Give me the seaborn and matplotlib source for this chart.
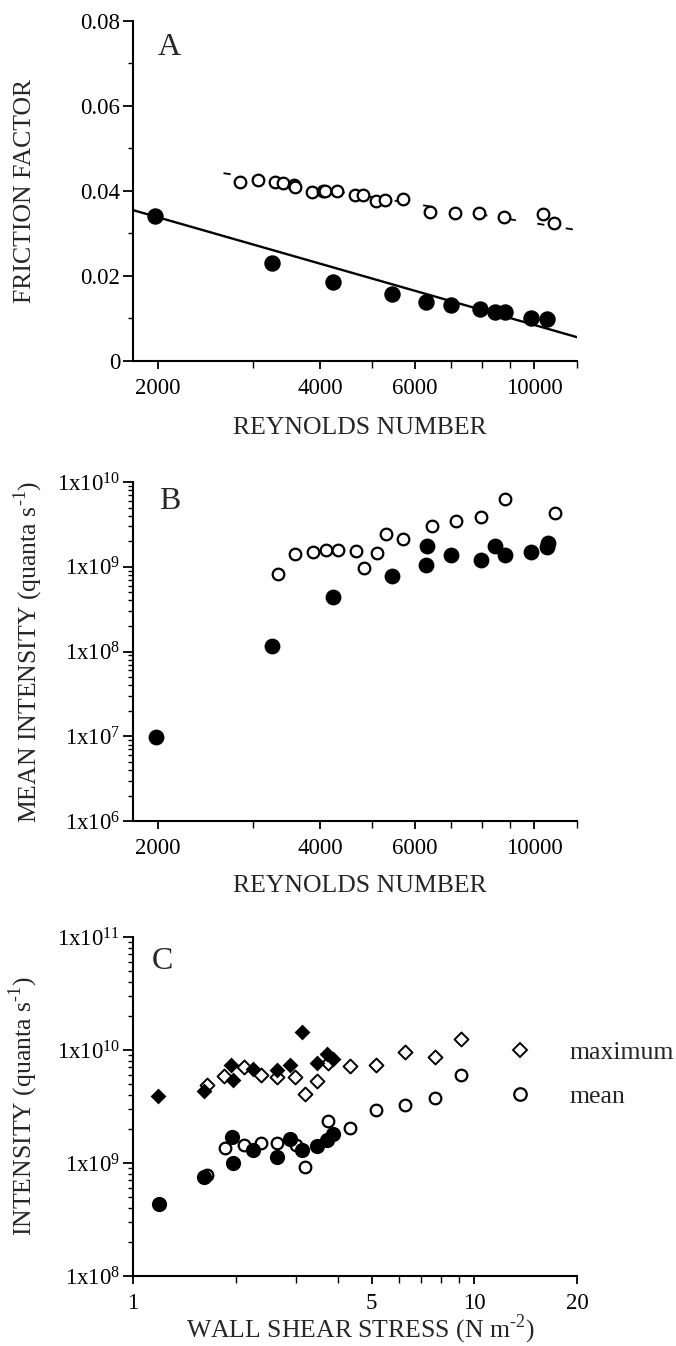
"""
Three-panel figure: friction factor (A), mean intensity (B) vs Reynolds number,
and intensity vs wall shear stress (C).
"""

import matplotlib
matplotlib.use("Agg")  # no display

import matplotlib.pyplot as plt
import matplotlib.ticker as mticker
import numpy as np
import seaborn as sns
from matplotlib.lines import Line2D

# ── Panel A: friction factor ────────────────────────────────
re_a_filled = [1980, 3260, 4230, 5440, 6300, 6990, 7920, 8440, 8810, 9860, 10540]
f_a_filled = [0.0340, 0.0231, 0.0185, 0.0157, 0.0138, 0.0132, 0.0122, 0.0116,
              0.0115, 0.0102, 0.0098]
re_a_open = [2845, 3070, 3300, 3415, 3575, 3590, 3860, 4055, 4090, 4310, 4645,
             4800, 5085, 5280, 5700, 6415, 7115, 7900, 8795, 10370, 10880]
f_a_open = [0.0422, 0.0426, 0.0422, 0.0418, 0.0414, 0.0410, 0.0398, 0.0401,
            0.0399, 0.0401, 0.0391, 0.0391, 0.0377, 0.0379, 0.0380, 0.0351,
            0.0349, 0.0349, 0.0338, 0.0345, 0.0324]
fit_re = [1800, 12000]
fit_f = [0.0355, 0.0056]
dash_re = [2650, 12000]
dash_f = [0.0442, 0.0308]

# ── Panel B: mean intensity ─────────────────────────────────
re_b_filled = [1985, 3260, 4235, 5445, 6295, 6320, 6990, 7945, 8445, 8835,
               9855, 10560, 10580]
i_b_filled = [9.8e6, 1.15e8, 4.4e8, 7.8e8, 1.04e9, 1.74e9, 1.39e9, 1.21e9,
              1.74e9, 1.39e9, 1.48e9, 1.69e9, 1.9e9]
re_b_open = [3340, 3590, 3880, 4100, 4330, 4660, 4830, 5100, 5305, 5715,
             6460, 7160, 7945, 8810, 10930]
i_b_open = [8.2e8, 1.42e9, 1.49e9, 1.56e9, 1.58e9, 1.55e9, 9.8e8, 1.47e9,
            2.45e9, 2.12e9, 3.05e9, 3.49e9, 3.86e9, 6.3e9, 4.3e9]

# ── Panel C: intensity vs wall shear stress ─────────────────
tau_max_filled = [1.18, 1.61, 1.94, 1.96, 2.25, 2.65, 2.89, 3.12, 3.45, 3.69, 3.86]
i_max_filled = [3.94e9, 4.3e9, 7.4e9, 5.46e9, 6.8e9, 6.66e9, 7.4e9, 1.45e10,
                7.68e9, 9.2e9, 8.3e9]
tau_max_open = [1.65, 1.85, 2.12, 2.37, 2.65, 2.99, 3.19, 3.45, 3.72, 4.32,
                5.14, 6.26, 7.67, 9.12]
i_max_open = [4.93e9, 5.93e9, 7.0e9, 6.03e9, 5.8e9, 5.73e9, 4.08e9, 5.27e9,
              7.68e9, 7.16e9, 7.41e9, 9.66e9, 8.6e9, 1.25e10]
tau_mean_filled = [1.19, 1.61, 1.95, 1.96, 2.25, 2.65, 2.89, 3.12, 3.45, 3.69, 3.86]
i_mean_filled = [4.3e8, 7.5e8, 1.69e9, 9.9e8, 1.31e9, 1.14e9, 1.63e9, 1.3e9,
                 1.42e9, 1.6e9, 1.81e9]
tau_mean_open = [1.65, 1.86, 2.12, 2.37, 2.65, 3.01, 3.2, 3.73, 4.33, 5.14,
                 6.26, 7.67, 9.12]
i_mean_open = [7.9e8, 1.37e9, 1.44e9, 1.5e9, 1.5e9, 1.45e9, 9.3e8, 2.33e9,
               2.04e9, 2.94e9, 3.28e9, 3.73e9, 6.04e9]

re_ticks = [2000, 4000, 6000, 10000]
re_minor = [3000, 5000, 7000, 8000, 9000, 12000]
tau_ticks = [1, 5, 10, 20]
tau_minor = [2, 3, 4, 6, 7, 8, 9]

sns.set_theme(style="ticks")
plt.rcParams["font.family"] = ["Liberation Serif", "DejaVu Serif"]
plt.rcParams["mathtext.fontset"] = "custom"
plt.rcParams["mathtext.rm"] = "Liberation Serif"
plt.rcParams["axes.linewidth"] = 1.5
plt.rcParams["axes.edgecolor"] = "black"
plt.rcParams["xtick.color"] = "black"
plt.rcParams["ytick.color"] = "black"

FS_TICK = 16.5
FS_LABEL = 18.5


def dots(ax, x, y, marker, size, filled, lw=1.6):
    sns.scatterplot(
        x=x, y=y, ax=ax, marker=marker, s=size,
        facecolor="black" if filled else "white",
        edgecolor="black", linewidth=0 if filled else lw,
        zorder=3, legend=False,
    )


def pow_label(v, _pos):
    return r"$\mathregular{1x10^{%d}}$" % int(round(np.log10(v)))


def style_axis(ax):
    sns.despine(ax=ax)
    ax.tick_params(axis="y", which="major", length=7, width=1.3, pad=2,
                   labelsize=FS_TICK, direction="out")
    ax.tick_params(axis="y", which="minor", length=3.5, width=1.0, direction="out")
    ax.tick_params(axis="x", which="major", length=6, width=1.3, pad=6,
                   labelsize=FS_TICK, direction="out")
    ax.tick_params(axis="x", which="minor", length=5, width=1.0, direction="out")


def re_axis(ax):
    ax.set_xscale("log")
    ax.set_xlim(1800, 12000)
    ax.xaxis.set_major_locator(mticker.FixedLocator(re_ticks))
    ax.xaxis.set_major_formatter(mticker.FixedFormatter([str(t) for t in re_ticks]))
    ax.xaxis.set_minor_locator(mticker.FixedLocator(re_minor))
    ax.xaxis.set_minor_formatter(mticker.NullFormatter())


def log_y(ax, lo, hi):
    ax.set_yscale("log")
    ax.set_ylim(lo, hi)
    ax.yaxis.set_major_locator(mticker.LogLocator(base=10, numticks=20))
    ax.yaxis.set_major_formatter(mticker.FuncFormatter(pow_label))
    ax.yaxis.set_minor_locator(mticker.LogLocator(base=10, subs=np.arange(2, 10), numticks=50))
    ax.yaxis.set_minor_formatter(mticker.NullFormatter())


fig = plt.figure(figsize=(6.76, 13.46), dpi=100)
ax_a = fig.add_axes([0.1967, 0.7318, 0.657, 0.2526])
ax_b = fig.add_axes([0.1967, 0.3900, 0.657, 0.2519])
ax_c = fig.add_axes([0.1967, 0.0520, 0.657, 0.2519])

# ── A ──
re_axis(ax_a)
ax_a.set_ylim(0, 0.08)
ax_a.yaxis.set_major_locator(mticker.FixedLocator([0, 0.02, 0.04, 0.06, 0.08]))
ax_a.yaxis.set_major_formatter(mticker.FixedFormatter(["0", "0.02", "0.04", "0.06", "0.08"]))
ax_a.yaxis.set_minor_locator(mticker.FixedLocator([0.01, 0.03, 0.05, 0.07]))
sns.lineplot(x=fit_re, y=fit_f, ax=ax_a, color="black", linewidth=1.7, zorder=2)
sns.lineplot(x=dash_re, y=dash_f, ax=ax_a, color="black", linewidth=1.3,
             linestyle=(0, (4, 12)), zorder=2)
dots(ax_a, re_a_open, f_a_open, "o", 70, False)
dots(ax_a, re_a_filled, f_a_filled, "o", 140, True)
style_axis(ax_a)
ax_a.set_xlabel("REYNOLDS NUMBER", fontsize=FS_LABEL)
ax_a.set_ylabel("FRICTION FACTOR", fontsize=FS_LABEL)
ax_a.text(0.055, 0.965, "A", transform=ax_a.transAxes, fontsize=23,
          ha="left", va="top")

# ── B ──
re_axis(ax_b)
log_y(ax_b, 1e6, 1e10)
dots(ax_b, re_b_open, i_b_open, "o", 70, False)
dots(ax_b, re_b_filled, i_b_filled, "o", 130, True)
style_axis(ax_b)
ax_b.set_xlabel("REYNOLDS NUMBER", fontsize=FS_LABEL)
ax_b.set_ylabel("MEAN INTENSITY (quanta s$^{\\mathregular{\u2010}1}$)", fontsize=FS_LABEL)
ax_b.text(0.058, 0.985, "B", transform=ax_b.transAxes, fontsize=23,
          ha="left", va="top")

# ── C ──
ax_c.set_xscale("log")
ax_c.set_xlim(1, 20)
ax_c.xaxis.set_major_locator(mticker.FixedLocator(tau_ticks))
ax_c.xaxis.set_major_formatter(mticker.FixedFormatter([str(t) for t in tau_ticks]))
ax_c.xaxis.set_minor_locator(mticker.FixedLocator(tau_minor))
ax_c.xaxis.set_minor_formatter(mticker.NullFormatter())
log_y(ax_c, 1e8, 1e11)
dots(ax_c, tau_max_open, i_max_open, "D", 50, False, lw=1.4)
dots(ax_c, tau_mean_open, i_mean_open, "o", 70, False)
dots(ax_c, tau_max_filled, i_max_filled, "D", 65, True)
dots(ax_c, tau_mean_filled, i_mean_filled, "o", 120, True)
style_axis(ax_c)
ax_c.set_xlabel("WALL SHEAR STRESS (N m$^{\\mathregular{\u2010}2}$)", fontsize=FS_LABEL)
ax_c.set_ylabel("INTENSITY (quanta s$^{\\mathregular{\u2010}1}$)", fontsize=FS_LABEL)
ax_c.text(0.043, 0.97, "C", transform=ax_c.transAxes, fontsize=23,
          ha="left", va="top")

handles = [
    Line2D([], [], linestyle="none", marker="D", markersize=7.5,
           markerfacecolor="white", markeredgecolor="black", markeredgewidth=1.4),
    Line2D([], [], linestyle="none", marker="o", markersize=9,
           markerfacecolor="white", markeredgecolor="black", markeredgewidth=1.6),
]
ax_c.legend(handles, ["maximum", "mean"], loc="center left",
            bbox_to_anchor=(0.842, 0.594), frameon=False, fontsize=FS_LABEL,
            handlelength=1.0, handletextpad=1.45, labelspacing=0.8,
            borderpad=0, borderaxespad=0)

# label placement
for ax, ylab_x, xlab_y in [(ax_a, -0.218, -0.165), (ax_b, -0.198, -0.16),
                           (ax_c, -0.21, -0.108)]:
    ax.yaxis.set_label_coords(ylab_x, 0.5)
    ax.xaxis.set_label_coords(0.512, xlab_y)

fig.savefig("out.png", dpi=100)
plt.close(fig)
